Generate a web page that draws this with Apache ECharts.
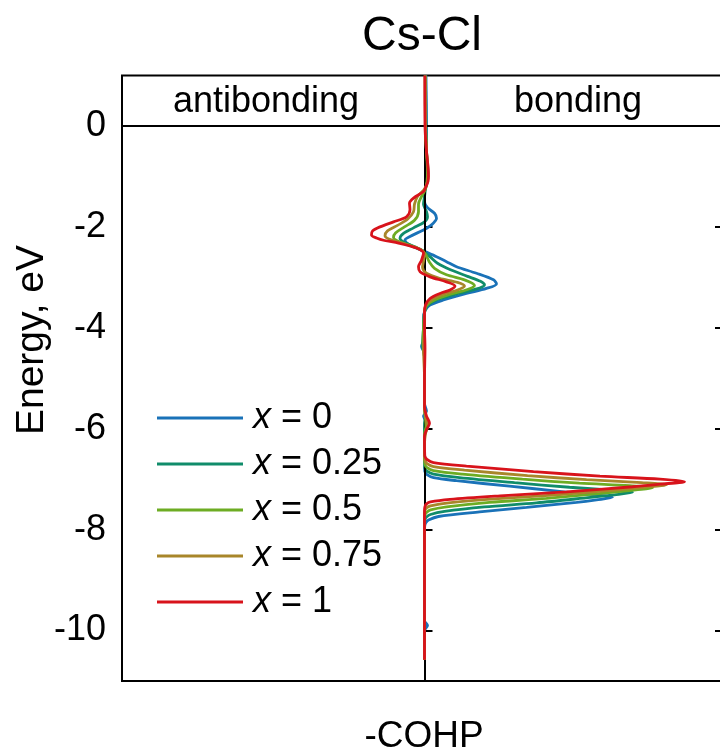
<!DOCTYPE html>
<html>
<head>
<meta charset="utf-8">
<script src="https://cdn.jsdelivr.net/npm/echarts@6/dist/echarts.min.js"></script>
<style>
  html, body { margin: 0; padding: 0; background: #fff; }
  #chart { width: 720px; height: 753px; }
</style>
</head>
<body>
<div id="chart"></div>
<script>
// Cs-Cl crystal orbital Hamilton population, one curve per composition x.
// Each entry is [energy (eV), -COHP (arb. units)].
const seriesNames = ['x = 0', 'x = 0.25', 'x = 0.5', 'x = 0.75', 'x = 1'];
const seriesColors = ['#1a72b8', '#108c6a', '#6dac23', '#a8862a', '#d8131b'];
const energyTicks = [0, -2, -4, -6, -8, -10];
const regionLabels = ['antibonding', 'bonding'];

const cohpX0 = [
  [1.0,0.015],[0.0,0.02],[-0.5,0.02],[-0.94,0.035],[-1.14,0.02],[-1.33,0.0],[-1.5,0.0],
  [-1.62,0.03],[-1.73,0.1],[-1.83,0.12],[-1.96,0.07],[-2.06,-0.01],[-2.19,-0.145],[-2.26,-0.195],
  [-2.36,-0.145],[-2.49,0.005],[-2.59,0.12],[-2.69,0.22],[-2.79,0.32],[-2.92,0.52],[-3.05,0.69],
  [-3.13,0.72],[-3.22,0.62],[-3.32,0.42],[-3.45,0.19],[-3.55,0.055],[-3.66,0.005],[-3.8,-0.01],
  [-4.0,-0.01],[-4.2,0.0],[-4.37,-0.03],[-4.5,0.0],[-5.5,0.0],[-5.65,0.02],[-5.75,-0.01],
  [-5.85,0.01],[-6.0,0.0],[-6.8,0.002],[-6.85,0.004],[-6.91,0.025],[-6.97,0.09],[-7.03,0.32],
  [-7.14,0.85],[-7.24,1.35],[-7.31,1.7],[-7.36,1.88],[-7.41,1.72],[-7.46,1.52],[-7.56,1.02],
  [-7.65,0.55],[-7.74,0.14],[-7.81,0.04],[-7.86,0.015],[-7.91,0.004],[-8.0,0.0],[-9.0,0.0],
  [-9.8,0.0],[-9.9,0.03],[-10.0,0.0],[-10.58,0.0]
];
const cohpX025 = [
  [1.0,0.01],[0.0,0.015],[-0.5,0.02],[-0.9,0.03],[-1.1,0.025],[-1.25,0.01],[-1.4,0.0],
  [-1.55,-0.01],[-1.7,0.02],[-1.8,0.03],[-1.9,0.0],[-2.02,-0.11],[-2.13,-0.21],[-2.23,-0.245],
  [-2.31,-0.2],[-2.4,-0.09],[-2.5,0.0],[-2.6,0.06],[-2.72,0.13],[-2.85,0.26],[-2.98,0.43],
  [-3.08,0.56],[-3.15,0.6],[-3.23,0.52],[-3.32,0.34],[-3.44,0.13],[-3.56,0.03],[-3.7,0.0],
  [-4.0,-0.01],[-4.35,-0.02],[-4.6,0.0],[-5.6,0.0],[-5.75,0.01],[-5.9,0.0],[-6.73,0.002],
  [-6.78,0.004],[-6.84,0.025],[-6.9,0.09],[-6.97,0.35],[-7.07,0.9],[-7.16,1.45],[-7.22,1.88],
  [-7.26,2.08],[-7.31,1.9],[-7.36,1.66],[-7.47,1.12],[-7.55,0.6],[-7.64,0.2],[-7.7,0.06],
  [-7.75,0.02],[-7.8,0.005],[-7.9,0.0],[-8.2,0.0],[-9.0,0.0],[-10.0,0.0],[-10.58,0.0]
];
const cohpX05 = [
  [1.0,0.008],[0.0,0.01],[-0.5,0.02],[-0.9,0.03],[-1.1,0.025],[-1.25,0.01],[-1.4,-0.03],
  [-1.55,-0.06],[-1.7,-0.06],[-1.87,-0.1],[-2.0,-0.2],[-2.12,-0.29],[-2.21,-0.31],[-2.29,-0.26],
  [-2.37,-0.14],[-2.47,-0.02],[-2.58,0.02],[-2.7,0.05],[-2.82,0.1],[-2.95,0.22],[-3.05,0.4],
  [-3.16,0.5],[-3.24,0.43],[-3.33,0.27],[-3.44,0.11],[-3.56,0.02],[-3.7,0.0],[-4.0,-0.01],
  [-4.3,-0.015],[-4.6,0.0],[-5.6,0.0],[-5.8,0.01],[-5.95,0.015],[-6.1,0.0],[-6.66,0.002],
  [-6.71,0.004],[-6.77,0.025],[-6.83,0.09],[-6.9,0.38],[-7.0,0.98],[-7.08,1.55],[-7.13,2.05],
  [-7.17,2.28],[-7.22,2.07],[-7.27,1.82],[-7.38,1.22],[-7.46,0.65],[-7.55,0.22],[-7.61,0.06],
  [-7.66,0.02],[-7.71,0.005],[-7.8,0.0],[-8.0,0.0],[-9.0,0.0],[-10.0,0.0],[-10.58,0.0]
];
const cohpX075 = [
  [1.0,0.006],[0.0,0.01],[-0.5,0.02],[-0.9,0.035],[-1.1,0.03],[-1.25,0.0],[-1.4,-0.07],
  [-1.55,-0.1],[-1.7,-0.11],[-1.85,-0.17],[-1.97,-0.27],[-2.08,-0.37],[-2.18,-0.395],[-2.26,-0.33],
  [-2.34,-0.19],[-2.44,-0.05],[-2.55,0.0],[-2.68,-0.01],[-2.8,-0.02],[-2.92,0.02],[-3.02,0.15],
  [-3.1,0.33],[-3.17,0.4],[-3.25,0.33],[-3.33,0.2],[-3.43,0.08],[-3.55,0.015],[-3.7,0.0],
  [-4.0,0.0],[-4.4,-0.01],[-5.0,0.0],[-5.6,0.0],[-5.8,0.015],[-5.95,0.03],[-6.1,0.01],
  [-6.3,0.0],[-6.58,0.002],[-6.63,0.004],[-6.69,0.025],[-6.75,0.09],[-6.82,0.4],[-6.93,1.03],
  [-7.01,1.62],[-7.07,2.17],[-7.11,2.42],[-7.16,2.2],[-7.21,1.93],[-7.31,1.32],[-7.39,0.7],
  [-7.47,0.24],[-7.53,0.06],[-7.57,0.02],[-7.62,0.005],[-7.7,0.0],[-8.0,0.0],[-9.0,0.0],
  [-10.0,0.0],[-10.58,0.0]
];
const cohpX1 = [
  [1.0,0.003],[0.0,0.005],[-0.5,0.02],[-0.8,0.035],[-1.0,0.04],[-1.1,0.035],[-1.2,0.015],
  [-1.3,-0.01],[-1.43,-0.11],[-1.53,-0.15],[-1.66,-0.145],[-1.8,-0.18],[-1.9,-0.31],[-2.0,-0.445],
  [-2.08,-0.52],[-2.16,-0.53],[-2.22,-0.48],[-2.27,-0.4],[-2.32,-0.26],[-2.42,-0.08],[-2.52,-0.01],
  [-2.66,-0.03],[-2.79,-0.06],[-2.89,-0.045],[-2.99,0.055],[-3.09,0.22],[-3.17,0.305],[-3.25,0.255],
  [-3.32,0.155],[-3.42,0.055],[-3.55,0.01],[-3.7,0.0],[-4.0,0.0],[-4.4,0.005],[-5.0,0.0],
  [-5.55,0.0],[-5.75,0.02],[-5.89,0.05],[-6.02,0.02],[-6.15,0.0],[-6.35,0.0],[-6.5,0.002],
  [-6.55,0.004],[-6.61,0.025],[-6.67,0.09],[-6.74,0.42],[-6.85,1.09],[-6.94,1.755],[-7.0,2.355],
  [-7.05,2.6],[-7.1,2.35],[-7.15,2.08],[-7.25,1.42],[-7.33,0.755],[-7.4,0.255],[-7.45,0.06],
  [-7.49,0.02],[-7.54,0.005],[-7.62,0.0],[-8.0,0.0],[-9.0,0.0],[-10.0,0.0],[-10.58,0.0]
];
const allCurves = [cohpX0, cohpX025, cohpX05, cohpX075, cohpX1];

const FONT = '"Liberation Sans", Arial, Helvetica, sans-serif';

const chart = echarts.init(document.getElementById('chart'), null, { renderer: 'canvas' });

// -COHP goes on the horizontal axis, energy on the vertical one.
const curveSeries = allCurves.map((curve, i) => ({
  name: seriesNames[i],
  type: 'line',
  data: curve.map(p => [p[1], p[0]]),
  showSymbol: false,
  symbol: 'none',
  smooth: 0.3,
  z: 3 + i,
  clip: true,
  lineStyle: { color: seriesColors[i], width: 2.8 },
  itemStyle: { color: seriesColors[i] },
  emphasis: { disabled: true }
}));

// Zero reference lines (E = 0 and -COHP = 0).
const zeroLines = {
  name: 'zero',
  type: 'line',
  data: [],
  z: 1,
  silent: true,
  markLine: {
    silent: true,
    symbol: 'none',
    label: { show: false },
    lineStyle: { color: '#000', width: 2, type: 'solid' },
    emphasis: { disabled: true },
    data: [{ xAxis: 0 }, { yAxis: 0 }]
  }
};

chart.setOption({
  animation: false,
  backgroundColor: '#fff',
  grid: {
    left: 122, right: -3, top: 75.5, bottom: 72,
    show: true, borderColor: '#000', borderWidth: 2,
    outerBoundsMode: 'none', containLabel: false
  },
  xAxis: {
    type: 'value', min: -3.025, max: 2.985,
    axisLine: { show: false }, axisTick: { show: false },
    axisLabel: { show: false }, splitLine: { show: false }
  },
  yAxis: [
    {
      type: 'value', min: -11, max: 1, position: 'left',
      axisLine: { show: false },
      axisTick: { show: true, inside: true, length: 8, customValues: energyTicks,
                  lineStyle: { color: '#000', width: 2 } },
      axisLabel: { show: true, customValues: energyTicks, margin: 16,
                   color: '#000', fontSize: 36, fontFamily: FONT },
      splitLine: { show: false }
    },
    {
      type: 'value', min: -11, max: 1, position: 'right',
      axisLine: { show: false },
      axisTick: { show: true, inside: true, length: 8, customValues: energyTicks,
                  lineStyle: { color: '#000', width: 2 } },
      axisLabel: { show: false },
      splitLine: { show: false }
    }
  ],
  legend: {
    data: seriesNames,
    orient: 'vertical',
    left: 157, top: 400,
    padding: 0,
    itemWidth: 86, itemHeight: 3, itemGap: 10,
    icon: 'rect',
    selectedMode: false,
    formatter: name => name.replace('x', '{i|x}'),
    textStyle: {
      color: '#000', fontSize: 36, lineHeight: 36, fontFamily: FONT, padding: [0, 0, 0, 5],
      rich: { i: { fontStyle: 'italic', fontSize: 36, fontFamily: FONT, color: '#000' } }
    }
  },
  graphic: [
    { type: 'text', x: 422, y: 37, style: { text: 'Cs-Cl', fontSize: 48, fontFamily: FONT,
      fill: '#000', align: 'center', verticalAlign: 'middle' } },
    { type: 'text', x: 266, y: 102, style: { text: regionLabels[0], fontSize: 36, fontFamily: FONT,
      fill: '#000', align: 'center', verticalAlign: 'middle' } },
    { type: 'text', x: 578, y: 102, style: { text: regionLabels[1], fontSize: 36, fontFamily: FONT,
      fill: '#000', align: 'center', verticalAlign: 'middle' } },
    { type: 'text', x: 32, y: 340, rotation: Math.PI / 2, style: { text: 'Energy, eV', fontSize: 39,
      fontFamily: FONT, fill: '#000', align: 'center', verticalAlign: 'middle' } },
    { type: 'text', x: 424, y: 737, style: { text: '-COHP', fontSize: 37, fontFamily: FONT,
      fill: '#000', align: 'center', verticalAlign: 'middle' } }
  ],
  series: [zeroLines].concat(curveSeries)
});
</script>
</body>
</html>
